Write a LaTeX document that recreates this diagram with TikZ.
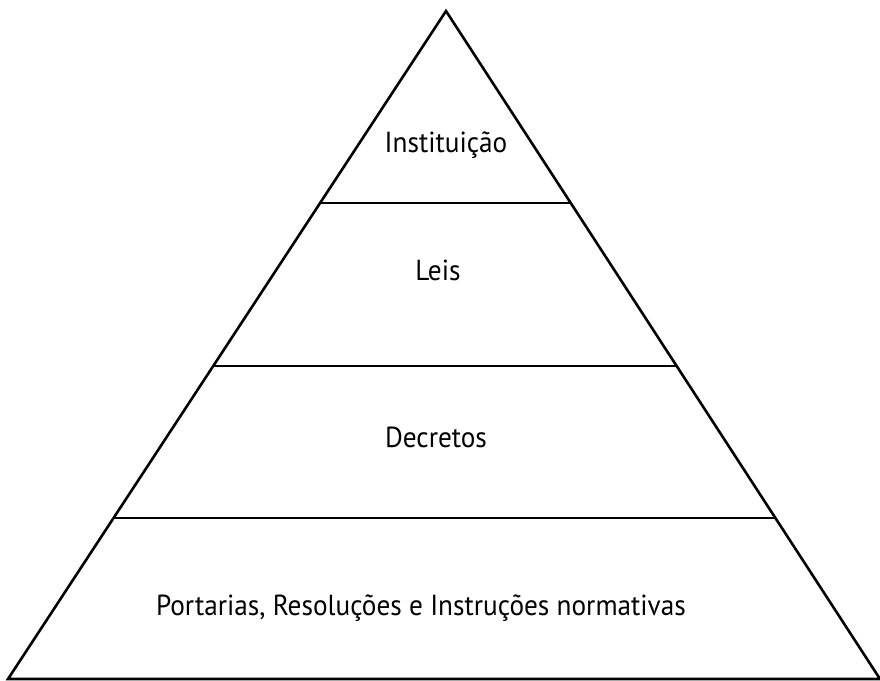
\documentclass[tikz,border=0pt]{standalone}
\usepackage{fontspec}
\setmainfont{PT Sans}[FakeStretch=0.94]
\usetikzlibrary{calc}
\begin{document}
\begin{tikzpicture}[x=1pt, y=-1pt, line width=2.6pt, line join=miter]
\tikzset{ lvl/.style={anchor=base, font=\fontsize{29}{32}\selectfont} }

\useasboundingbox (0,0) rectangle (880,680);

\coordinate (T)  at (446,11);
\coordinate (BL) at (8,679);
\coordinate (BR) at (880,679);

\draw (BL) -- (T) -- (BR) -- cycle;

\draw ($(T)!0.2874!(BL)$) -- ($(T)!0.2874!(BR)$);
\draw ($(T)!0.5314!(BL)$) -- ($(T)!0.5314!(BR)$);
\draw ($(T)!0.7590!(BL)$) -- ($(T)!0.7590!(BR)$);

\node [lvl] (inst) at (446,152) {Instituição};
\node [lvl] (leis) at (438,280) {Leis};
\node [lvl] (decr) at (436,447) {Decretos};
\node [lvl] (port) at (421,615) {Portarias, Resoluções e Instruções normativas};

\end{tikzpicture}
\end{document}
